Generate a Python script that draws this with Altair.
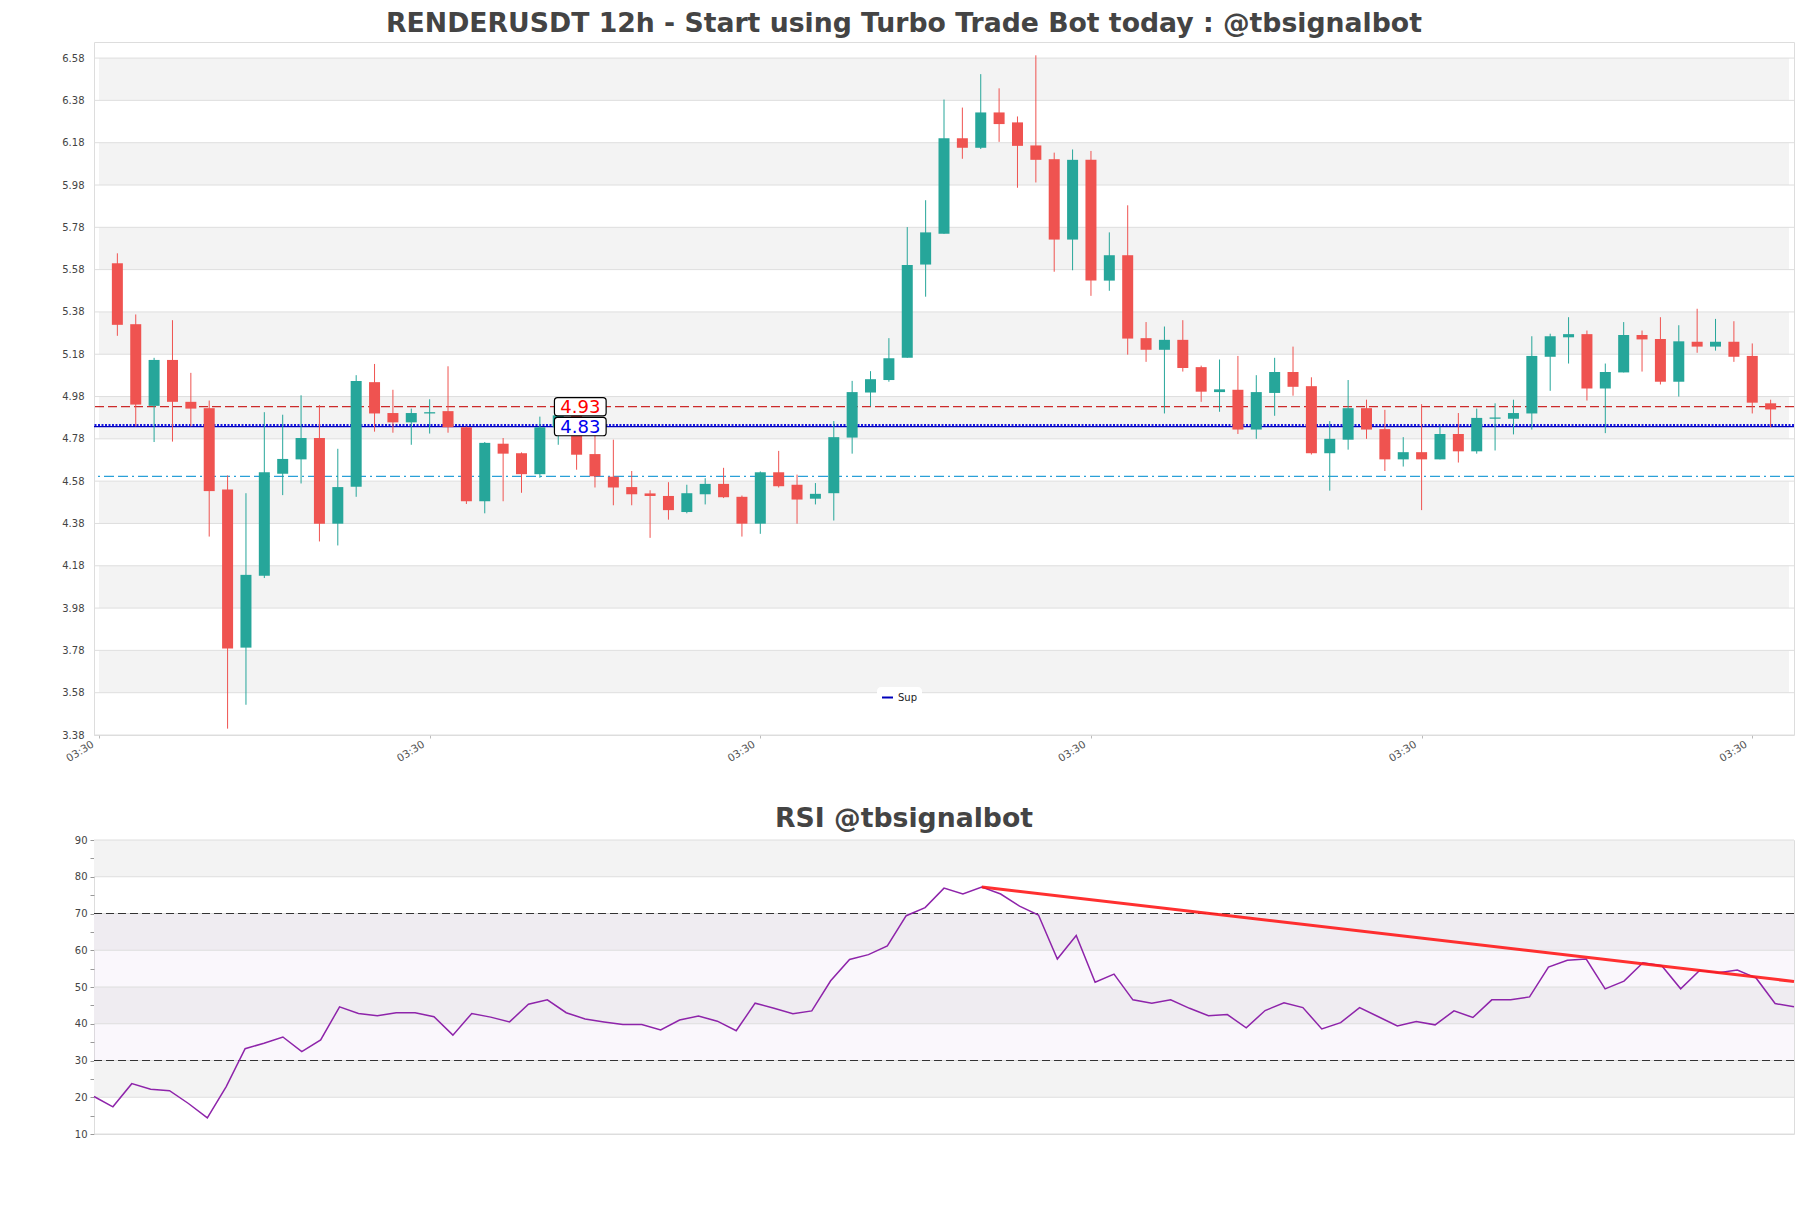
import altair as alt
import pandas as pd

# ---------------- data ----------------
opens = [5.610, 5.322, 4.936, 5.153, 4.955, 4.925, 4.540, 3.793, 4.133, 4.615,
         4.683, 4.784, 4.379, 4.554, 5.048, 4.902, 4.858, 4.900, 4.911, 4.835,
         4.485, 4.757, 4.712, 4.613, 4.835, 4.902, 4.708, 4.601, 4.552, 4.522,
         4.510, 4.434, 4.518, 4.567, 4.506, 4.379, 4.622, 4.563, 4.497, 4.523,
         4.786, 4.999, 5.058, 5.163, 5.604, 5.749, 6.201, 6.156, 6.323, 6.276,
         6.167, 6.102, 5.722, 6.099, 5.528, 5.648, 5.256, 5.201, 5.248, 5.119,
         5.001, 5.012, 4.824, 4.997, 5.096, 5.029, 4.712, 4.776, 4.925, 4.826,
         4.683, 4.717, 4.683, 4.803, 4.721, 4.875, 4.875, 4.900, 5.168, 5.260,
         5.275, 5.018, 5.094, 5.271, 5.252, 5.050, 5.239, 5.216, 5.239, 5.172,
         4.948]
highs = [5.657, 5.368, 5.163, 5.341, 5.092, 4.961, 4.607, 4.523, 4.906, 4.894,
         4.986, 4.940, 4.733, 5.081, 5.134, 5.012, 4.923, 4.967, 5.123, 4.838,
         4.765, 4.784, 4.716, 4.885, 4.900, 4.910, 4.807, 4.776, 4.628, 4.537,
         4.575, 4.563, 4.594, 4.643, 4.512, 4.626, 4.723, 4.611, 4.571, 4.864,
         5.054, 5.100, 5.256, 5.781, 5.908, 6.384, 6.346, 6.504, 6.437, 6.304,
         6.593, 6.133, 6.148, 6.141, 5.756, 5.884, 5.332, 5.311, 5.341, 5.126,
         5.155, 5.172, 5.081, 5.163, 5.216, 5.071, 4.864, 5.058, 4.965, 4.917,
         4.788, 4.944, 4.839, 4.902, 4.923, 4.948, 4.965, 5.265, 5.277, 5.355,
         5.292, 5.136, 5.332, 5.292, 5.355, 5.317, 5.395, 5.347, 5.336, 5.231,
         4.965]
lows = [5.267, 4.839, 4.765, 4.767, 4.839, 4.318, 3.410, 3.523, 4.122, 4.514,
        4.569, 4.295, 4.276, 4.506, 4.814, 4.809, 4.752, 4.805, 4.809, 4.472,
        4.428, 4.485, 4.525, 4.596, 4.752, 4.634, 4.550, 4.466, 4.466, 4.312,
        4.398, 4.428, 4.470, 4.500, 4.318, 4.331, 4.550, 4.379, 4.470, 4.394,
        4.710, 4.934, 5.050, 5.163, 5.452, 5.749, 6.104, 6.150, 6.184, 5.967,
        5.992, 5.570, 5.577, 5.456, 5.480, 5.178, 5.144, 4.900, 5.098, 4.955,
        4.908, 4.803, 4.780, 4.889, 4.984, 4.706, 4.535, 4.729, 4.780, 4.628,
        4.649, 4.443, 4.683, 4.668, 4.710, 4.725, 4.801, 4.824, 5.007, 5.136,
        4.961, 4.807, 5.094, 5.098, 5.037, 4.980, 5.187, 5.197, 5.144, 4.900,
        4.835]
closes = [5.319, 4.942, 5.153, 4.955, 4.923, 4.533, 3.789, 4.137, 4.622, 4.685,
          4.784, 4.379, 4.552, 5.054, 4.900, 4.858, 4.902, 4.906, 4.835, 4.485,
          4.761, 4.710, 4.613, 4.835, 4.891, 4.705, 4.603, 4.550, 4.518, 4.510,
          4.443, 4.523, 4.567, 4.504, 4.379, 4.622, 4.556, 4.493, 4.520, 4.788,
          5.001, 5.062, 5.161, 5.602, 5.756, 6.201, 6.156, 6.323, 6.268, 6.165,
          6.099, 5.722, 6.099, 5.528, 5.648, 5.254, 5.201, 5.248, 5.115, 5.003,
          5.014, 4.824, 5.001, 5.096, 5.026, 4.712, 4.780, 4.925, 4.824, 4.683,
          4.717, 4.683, 4.803, 4.721, 4.879, 4.881, 4.902, 5.172, 5.265, 5.275,
          5.018, 5.096, 5.271, 5.250, 5.050, 5.241, 5.216, 5.239, 5.168, 4.951,
          4.919]
rsi_values = [20.2, 17.4, 23.7, 22.2, 21.8, 18.3, 14.4, 22.9, 33.2, 34.7,
              36.4, 32.4, 35.6, 44.6, 42.8, 42.2, 43.0, 43.0, 41.9, 36.9,
              42.8, 41.8, 40.5, 45.3, 46.5, 43.0, 41.3, 40.5, 39.8, 39.8,
              38.3, 41.0, 42.1, 40.7, 38.1, 45.6, 44.2, 42.7, 43.5, 51.7,
              57.5, 58.8, 61.2, 69.4, 71.6, 76.9, 75.3, 77.2, 75.3, 72.0,
              69.6, 57.6, 64.0, 51.3, 53.5, 46.5, 45.6, 46.5, 44.2, 42.2,
              42.5, 38.9, 43.6, 45.7, 44.4, 38.6, 40.3, 44.4, 41.9, 39.4,
              40.6, 39.7, 43.5, 41.7, 46.5, 46.5, 47.3, 55.4, 57.3, 57.6,
              49.5, 51.6, 56.6, 55.8, 49.5, 54.5, 53.9, 54.6, 52.4, 45.5,
              44.6]

price_ticks = [3.38, 3.58, 3.78, 3.98, 4.18, 4.38, 4.58, 4.78, 4.98, 5.18,
               5.38, 5.58, 5.78, 5.98, 6.18, 6.38, 6.58]
price_domain = [3.38, 6.656]
x_domain = [-1, 91]
x_tick_values = [-1, 17, 35, 53, 71, 89]
x_tick_labels = ["03:30", "03:30", "03:30", "03:30", "03:30", "03:30"]

resistance_level = 4.932
support_level = 4.838
support_level_dotted = 4.846
lower_level = 4.603
level_labels = ["4.93", "4.83"]
level_label_colors = ["#ff0000", "#0000ee"]
label_x = 25.2
support_name = "Sup"

rsi_ticks = [10, 20, 30, 40, 50, 60, 70, 80, 90]
rsi_minor = [15, 25, 35, 45, 55, 65, 75, 85]
rsi_bounds = [30, 70]
trend_x = [47, 90]
trend_y = [77.2, 51.5]

main_title = "RENDERUSDT 12h - Start using Turbo Trade Bot today : @tbsignalbot"
rsi_title = "RSI @tbsignalbot"

# ---------------- styling ----------------
GREEN = "#26a69a"
RED = "#ef5350"
BAND = "#f3f3f3"
GRID = "#dedede"
FONT = "DejaVu Sans"
W, H_MAIN, H_RSI = 1700, 693, 294

n = len(closes)
candles = pd.DataFrame({"i": list(range(n)), "open": opens, "high": highs,
                        "low": lows, "close": closes})
bands = pd.DataFrame({"lo": price_ticks[1::2], "hi": price_ticks[2::2]})
bands["xa"] = x_domain[0]
bands["xb"] = x_domain[1]
grid_df = pd.DataFrame({"y": price_ticks})

xs = alt.Scale(domain=x_domain, nice=False, zero=False)
ys = alt.Scale(domain=price_domain, nice=False, zero=False)

x_axis_main = alt.Axis(values=x_tick_values, labelExpr="'" + x_tick_labels[0] + "'",
                       labelAngle=-32, labelAlign="right", labelBaseline="top",
                       labelFontSize=10.5, labelColor="#555555", labelFont=FONT,
                       tickSize=3, tickColor="#bbbbbb", domain=False, grid=False,
                       title=None, labelPadding=1, labelFlush=False, labelOffset=-9,
                       minExtent=30, maxExtent=30, labelOverlap=False)
y_axis_main = alt.Axis(values=price_ticks, format=".2f", ticks=False, domain=False,
                       grid=False, labelFontSize=10, labelColor="#444444",
                       labelFont=FONT, labelPadding=10, title=None,
                       minExtent=30, maxExtent=30, labelOverlap=False)


def Xm(field):
    return alt.X(field, scale=xs, axis=x_axis_main)


def Ym(field):
    return alt.Y(field, scale=ys, axis=y_axis_main)


band_layer = alt.Chart(bands).mark_rect(color=BAND).encode(
    x=Xm("xa:Q"), x2="xb:Q", y=Ym("lo:Q"), y2="hi:Q",
)
grid_layer = alt.Chart(grid_df).mark_rule(color=GRID, strokeWidth=1).encode(y=Ym("y:Q"))

res_layer = alt.Chart(pd.DataFrame({"y": [resistance_level]})).mark_rule(
    color="#cc2a2a", strokeWidth=1.2, strokeDash=[9, 4]
).encode(y=Ym("y:Q"))

low_layer = alt.Chart(pd.DataFrame({"y": [lower_level]})).mark_rule(
    color="#2aa0d8", strokeWidth=1.2, strokeDash=[10, 4, 10, 4, 2, 4]
).encode(y=Ym("y:Q"))

sup_layer = alt.Chart(pd.DataFrame({"y": [support_level], "name": [support_name]})).mark_rule(
    strokeWidth=1.3
).encode(
    y=Ym("y:Q"),
    color=alt.Color("name:N", scale=alt.Scale(domain=[support_name], range=["#0000bb"]),
                    legend=alt.Legend(orient="none", legendX=783, legendY=645, title=None,
                                      symbolType="stroke", symbolStrokeWidth=2,
                                      symbolSize=120, labelFontSize=10, labelFont=FONT,
                                      labelColor="#222222", fillColor="white",
                                      padding=4, cornerRadius=4)),
)
sup_dot_layer = alt.Chart(pd.DataFrame({"y": [support_level_dotted]})).mark_rule(
    color="#1a1ae0", strokeWidth=2, strokeDash=[2, 1.5]
).encode(y=Ym("y:Q"))

color_cond = alt.condition("datum.open <= datum.close", alt.value(GREEN), alt.value(RED))
wick_layer = alt.Chart(candles).mark_rule(strokeWidth=1).encode(
    x=Xm("i:Q"), y=Ym("low:Q"), y2="high:Q", color=color_cond,
)
body_layer = alt.Chart(candles).mark_bar(size=11).encode(
    x=Xm("i:Q"), y=Ym("open:Q"), y2="close:Q", color=color_cond,
)

labels_df = pd.DataFrame({"x": [label_x, label_x],
                          "y": [resistance_level, support_level],
                          "text": level_labels, "c": level_label_colors})
BOX = ("M -0.88,-0.354 L 0.88,-0.354 Q 1,-0.354 1,-0.234 L 1,0.234 Q 1,0.354 0.88,0.354 "
       "L -0.88,0.354 Q -1,0.354 -1,0.234 L -1,-0.234 Q -1,-0.354 -0.88,-0.354 Z")
box_layer = alt.Chart(labels_df).mark_point(
    shape=BOX, size=2673, filled=True, fill="white", stroke="black",
    strokeWidth=1.2, opacity=1, fillOpacity=1
).encode(x=Xm("x:Q"), y=Ym("y:Q"))
text_layer = alt.Chart(labels_df).mark_text(fontSize=18, font=FONT, dy=1).encode(
    x=Xm("x:Q"), y=Ym("y:Q"),
    text="text:N",
    color=alt.Color("c:N", scale=None),
)

main = alt.layer(
    band_layer, grid_layer, low_layer, res_layer, sup_layer, sup_dot_layer,
    wick_layer, body_layer, box_layer, text_layer
).properties(
    width=W, height=H_MAIN,
    title=alt.TitleParams(main_title, fontSize=26.7, font=FONT, fontWeight="bold",
                          color="#444444", anchor="middle", baseline="bottom",
                          offset=-23, dx=-40),
)

# ---------------- RSI panel ----------------
rsi_df = pd.DataFrame({"i": list(range(n)), "rsi": rsi_values})
rx = alt.Scale(domain=[0, n - 1], nice=False, zero=False)
ry = alt.Scale(domain=[rsi_ticks[0], rsi_ticks[-1]], nice=False, zero=False)
rsi_axis_values = sorted(rsi_ticks + rsi_minor)
y_axis_rsi = alt.Axis(values=rsi_axis_values,
                      labelExpr="datum.value % 10 == 0 ? datum.label : ''",
                      tickSize=4, tickColor="#999999", domain=False, grid=False,
                      labelFontSize=10, labelColor="#444444", labelFont=FONT,
                      labelPadding=3, title=None, minExtent=30, maxExtent=30,
                      labelOverlap=False, labelSeparation=0, labelBound=False)


def Xr(field):
    return alt.X(field, scale=rx, axis=None)


def Yr(field):
    return alt.Y(field, scale=ry, axis=y_axis_rsi)


rbands = pd.DataFrame({"lo": rsi_ticks[1::2], "hi": rsi_ticks[2::2]})
rbands["xa"] = 0
rbands["xb"] = n - 1
rband_layer = alt.Chart(rbands).mark_rect(color=BAND).encode(
    x=Xr("xa:Q"), x2="xb:Q", y=Yr("lo:Q"), y2="hi:Q",
)
hatch_df = pd.DataFrame({"lo": [rsi_bounds[0]], "hi": [rsi_bounds[1]],
                         "xa": [0], "xb": [n - 1]})
hatch_layer = alt.Chart(hatch_df).mark_rect(color="#d9c3e6", opacity=0.13).encode(
    x=Xr("xa:Q"), x2="xb:Q", y=Yr("lo:Q"), y2="hi:Q",
)
rgrid_layer = alt.Chart(pd.DataFrame({"y": rsi_ticks})).mark_rule(color=GRID).encode(
    y=Yr("y:Q")
)
rbound_layer = alt.Chart(pd.DataFrame({"y": rsi_bounds})).mark_rule(
    color="#333333", strokeWidth=1, strokeDash=[8, 4]
).encode(y=Yr("y:Q"))
rsi_line = alt.Chart(rsi_df).mark_line(color="#8e24aa", strokeWidth=1.5).encode(
    x=Xr("i:Q"), y=Yr("rsi:Q"),
)
trend_layer = alt.Chart(pd.DataFrame({"x": trend_x, "y": trend_y})).mark_line(
    color="#ff1a1a", strokeWidth=3, opacity=0.9
).encode(x=Xr("x:Q"), y=Yr("y:Q"))

rsi_chart = alt.layer(
    rband_layer, hatch_layer, rgrid_layer, rbound_layer, rsi_line, trend_layer
).properties(
    width=W, height=H_RSI,
    title=alt.TitleParams(rsi_title, fontSize=26.7, font=FONT, fontWeight="bold",
                          color="#444444", anchor="middle", baseline="bottom",
                          offset=-25, dx=-40),
)

chart = alt.vconcat(main, rsi_chart, spacing=39).resolve_scale(
    x="independent", y="independent", color="independent"
).properties(
    padding={"left": 61, "top": 10, "right": 10, "bottom": 10}
).configure(font=FONT).configure_view(stroke="#dddddd", strokeWidth=1)

chart.save("out.html", embed_options={"renderer": "svg", "actions": False})
